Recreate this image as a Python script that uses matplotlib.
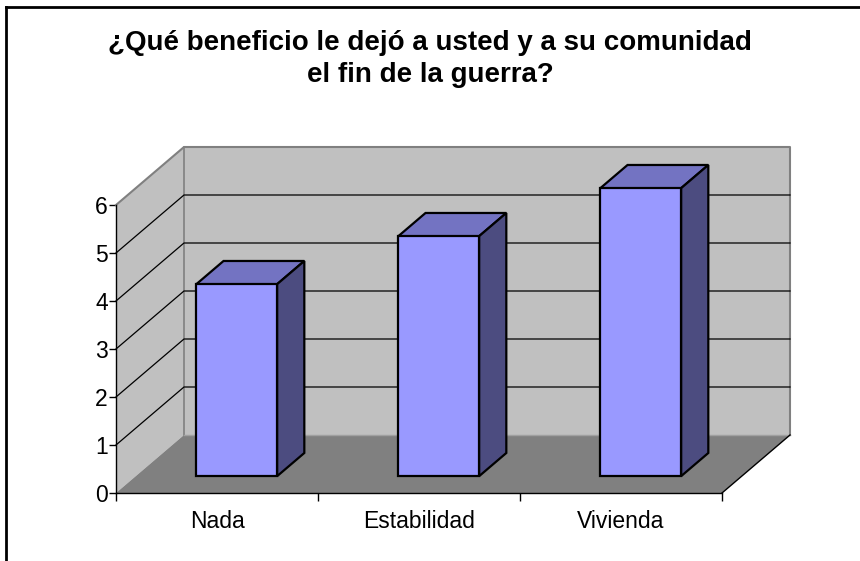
import matplotlib
matplotlib.use("Agg")
import matplotlib.pyplot as plt
from matplotlib.patches import Polygon
from matplotlib.lines import Line2D

categories = ["Nada", "Estabilidad", "Vivienda"]
values = [4, 5, 6]
yticks = [0, 1, 2, 3, 4, 5, 6]
title = "¿Qué beneficio le dejó a usted y a su comunidad\nel fin de la guerra?"

W, H = 860, 561
fig = plt.figure(figsize=(W / 100, H / 100), dpi=100)
plt.rcParams['font.family'] = ['Liberation Sans', 'DejaVu Sans']

# front plane of the 3D box in pixels
x0, x1 = 116, 722
y0, y6 = 493, 205
ax = fig.add_axes([x0 / W, (H - y0) / H, (x1 - x0) / W, (y0 - y6) / H])
ax.set_xlim(0, 3)
ax.set_ylim(0, 6)
ax.patch.set_visible(False)

ppx = (x1 - x0) / 3.0       # pixels per category
ppy = (y0 - y6) / 6.0       # pixels per unit
dx = 68 / ppx               # depth offset in data units
dy = 58 / ppy
ymax = yticks[-1]
n = len(categories)

wall = "#C0C0C0"
floor = "#808080"
edge_gray = "#808080"

# left wall
ax.add_patch(Polygon([(0, 0), (dx, dy), (dx, ymax + dy), (0, ymax)], closed=True,
                     facecolor=wall, edgecolor="none", clip_on=False, zorder=1))
# back wall
ax.add_patch(Polygon([(dx, dy), (n + dx, dy), (n + dx, ymax + dy), (dx, ymax + dy)], closed=True,
                     facecolor=wall, edgecolor="none", clip_on=False, zorder=1))
# floor
ax.add_patch(Polygon([(0, 0), (n, 0), (n + dx, dy), (dx, dy)], closed=True,
                     facecolor=floor, edgecolor="none", clip_on=False, zorder=1))

# wall outlines (gray)
ax.plot([0, dx, n + dx, n + dx], [ymax, ymax + dy, ymax + dy, dy], color=edge_gray, lw=1.5,
        clip_on=False, zorder=2)
ax.plot([dx, dx], [dy, ymax + dy], color=edge_gray, lw=1.2, clip_on=False, zorder=2)
ax.plot([dx, n + dx], [dy, dy], color="#A0A0A0", lw=1.0, clip_on=False, zorder=2)

# gridlines
for v in yticks[1:-1]:
    ax.plot([0, dx, n + dx], [v, v + dy, v + dy], color="black", lw=0.9,
            clip_on=False, zorder=2)

# floor front right edge
ax.plot([n, n + dx], [0, dy], color="black", lw=1.0, clip_on=False, zorder=2)

# bars
z0, z1 = 0.29, 0.69
hw = 0.2
face = "#9999FF"
top_c = "#7373C2"
side_c = "#4C4C80"
for i, v in enumerate(values):
    c = i + 0.5
    fxl = c - hw + z0 * dx
    fxr = c + hw + z0 * dx
    fyb = z0 * dy
    fyt = v + z0 * dy
    ddx = (z1 - z0) * dx
    ddy = (z1 - z0) * dy
    ax.add_patch(Polygon([(fxl, fyb), (fxr, fyb), (fxr, fyt), (fxl, fyt)], closed=True,
                         facecolor=face, edgecolor="black", lw=1.6, clip_on=False,
                         zorder=4, joinstyle="miter"))
    ax.add_patch(Polygon([(fxl, fyt), (fxr, fyt), (fxr + ddx, fyt + ddy), (fxl + ddx, fyt + ddy)],
                         closed=True, facecolor=top_c, edgecolor="black", lw=1.6,
                         clip_on=False, zorder=3, joinstyle="miter"))
    ax.add_patch(Polygon([(fxr, fyb), (fxr + ddx, fyb + ddy), (fxr + ddx, fyt + ddy), (fxr, fyt)],
                         closed=True, facecolor=side_c, edgecolor="black", lw=1.6,
                         clip_on=False, zorder=3, joinstyle="miter"))

# axes
for s in ["top", "right"]:
    ax.spines[s].set_visible(False)
for s in ["left", "bottom"]:
    ax.spines[s].set_color("black")
    ax.spines[s].set_linewidth(1.0)
    ax.spines[s].set_zorder(2.5)
ax.set_yticks(yticks)
ax.set_yticklabels([str(t) for t in yticks], fontsize=16.5)
ax.tick_params(axis="y", length=5, width=1, pad=1, colors="black")
ax.set_xticks(range(n + 1))
ax.set_xticklabels([""] * (n + 1))
ax.set_xticks([i + 0.5 for i in range(n)], minor=True)
ax.set_xticklabels(categories, minor=True, fontsize=16.5)
ax.tick_params(axis="x", which="major", length=6, width=1)
ax.tick_params(axis="x", which="minor", length=0, pad=12)

fig.text(0.5, 1 - 59 / H, title, ha="center", va="center", fontsize=20,
         fontweight="bold", linespacing=1.3)

# chart area border (top and left visible)
fig.add_artist(Line2D([5.5 / W, 5.5 / W], [0, 1 - 6.5 / H], color="black", lw=2,
                      transform=fig.transFigure))
fig.add_artist(Line2D([5.5 / W, 1], [1 - 6.5 / H, 1 - 6.5 / H], color="black", lw=2,
                      transform=fig.transFigure))

fig.savefig("out.png", dpi=100)
